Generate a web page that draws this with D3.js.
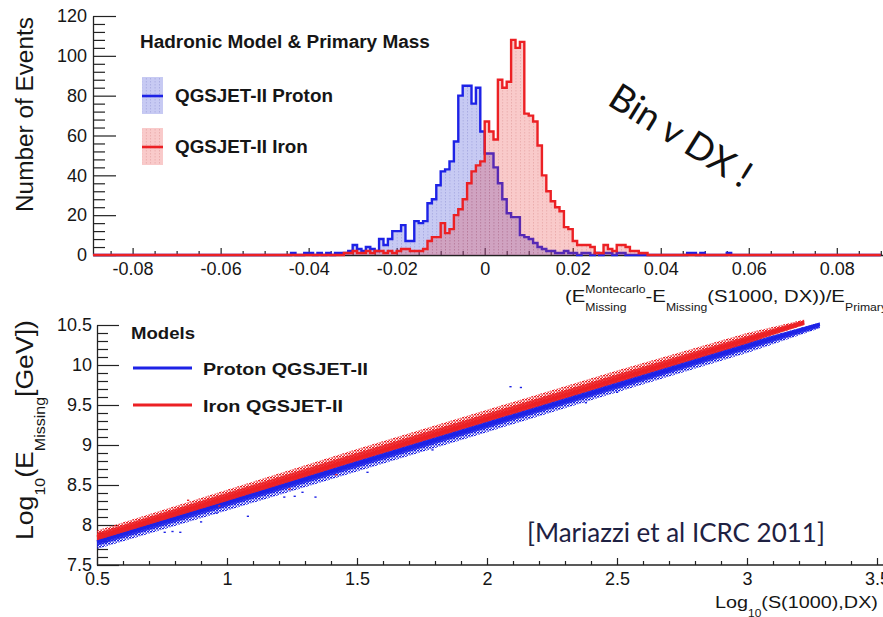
<!DOCTYPE html>
<html>
<head>
<meta charset="utf-8">
<script src="https://cdn.jsdelivr.net/npm/d3@7"></script>
<style>
  html, body { margin: 0; padding: 0; background: #fff; }
  svg { display: block; font-family: "Liberation Sans", Arial, Helvetica, sans-serif; }
</style>
</head>
<body>
<svg id="chart"></svg>
<script>
const width = 883
const height = 617

// ---- missing-energy residual histograms, 0.001 wide bins ----
const binWidth = 0.001
const protonFirstBin = -45
const protonCounts = [
  0, 1, 0, 0, 1, 1, 0, 1, 0, 1, 0, 1, 1,
  1, 2, 5, 3, 2, 4, 3, 2, 8, 5, 8, 12, 12, 15, 7, 7, 17, 16, 17, 26,
  28, 35, 42, 43, 47, 57, 80, 85, 85, 76, 84, 62,
  51, 51, 44, 36, 28, 21, 19, 19, 10, 9, 8, 6, 4, 3, 2, 2, 1, 1, 2, 1,
  1, 0, 1, 1, 0, 1, 0, 1, 1, 0, 1, 1,
  0, 0, 0, 0, 0, 0, 0, 0, 0, 0, 0, 0, 0, 0, 1, 1, 0, 1, 0, 0, 0, 0, 0, 1, 0
]
const ironFirstBin = -32
const ironCounts = [
  1, 1, 2, 1, 1, 2, 1, 2, 2, 1,
  2, 1, 2, 3, 3, 2, 2, 2, 3, 7,
  9, 9, 16, 11, 13, 20, 23, 28, 36, 42,
  45, 47, 67, 62, 58, 88, 84, 87, 108, 104,
  107, 71, 70, 67, 55, 40, 32, 27, 24, 22,
  14, 13, 7, 5, 5, 5, 4, 1, 1, 5,
  3, 2, 5, 5, 4, 2, 2, 1, 1
]
const histXTicks = [-0.08, -0.06, -0.04, -0.02, 0, 0.02, 0.04, 0.06, 0.08]
const histYTicks = [0, 20, 40, 60, 80, 100, 120]

// ---- log10(E_missing) against log10(S(1000),DX) ----
const protonLineX = [0.5, 3.28]
const protonLineY = [7.79, 10.51]
const ironLineX = [0.5, 3.22]
const ironLineY = [7.85, 10.53]
// dense cloud: solid core and sparser halo around each fit
const protonBandX = [0.5, 1.0, 1.5, 2.0, 2.5, 3.0, 3.28]
const protonCoreLo = [7.74, 8.23, 8.72, 9.21, 9.70, 10.19, 10.47]
const protonCoreHi = [7.83, 8.32, 8.81, 9.30, 9.79, 10.28, 10.53]
const protonHaloLo = [7.70, 8.18, 8.67, 9.16, 9.66, 10.15, 10.46]
const ironBandX = [0.5, 1.0, 1.5, 2.0, 2.5, 3.0, 3.22]
const ironCoreLo = [7.81, 8.30, 8.80, 9.29, 9.78, 10.27, 10.50]
const ironCoreHi = [7.90, 8.40, 8.90, 9.39, 9.88, 10.36, 10.56]
const ironHaloHi = [7.93, 8.44, 8.95, 9.44, 9.93, 10.40, 10.57]
const protonStrayX = [0.76, 0.79, 0.82, 0.90, 0.96, 1.08, 1.22, 1.26, 1.29, 1.34, 1.54, 1.79, 2.09, 2.13, 2.38, 2.50]
const protonStrayY = [7.91, 7.92, 7.91, 8.04, 8.15, 8.11, 8.35, 8.36, 8.41, 8.35, 8.66, 8.94, 9.73, 9.72, 9.53, 9.66]
const ironStrayX = [0.85, 0.92, 0.97, 1.24, 1.42]
const ironStrayY = [8.31, 8.27, 8.24, 8.45, 8.63]
const scatterXTicks = [0.5, 1, 1.5, 2, 2.5, 3, 3.5]
const scatterYTicks = [7.5, 8, 8.5, 9, 9.5, 10, 10.5]

const blue = "#1d22e6"
const red = "#ec2024"
const ink = "#161616"

const svg = d3.select("#chart")
              .attr("width", width)
              .attr("height", height)

svg.append("rect").attr("width", width).attr("height", height).attr("fill", "#fff")

const defs = svg.append("defs")

// rich text: plain runs, subscripts, superscripts and stacked sup/sub pairs
function richText(parent, parts, fs, weight)
{
  const g = parent.append("g").attr("fill", ink).attr("font-weight", weight || "normal")
  let x = 0
  parts.forEach(p => {
    if (p.t) {
      const t = g.append("text").attr("x", x).attr("font-size", fs).text(p.t)
      x += t.node().getComputedTextLength()
    } else {
      let w = 0
      if (p.sup) {
        const t = g.append("text").attr("x", x).attr("y", -0.52 * fs).attr("font-size", fs * 0.6).text(p.sup)
        w = Math.max(w, t.node().getComputedTextLength())
      }
      if (p.sub) {
        const t = g.append("text").attr("x", x).attr("y", 0.5 * fs).attr("font-size", fs * 0.6).text(p.sub)
        w = Math.max(w, t.node().getComputedTextLength())
      }
      x += w
    }
  })
  return { g: g, width: x }
}

function fitText(parent, parts, fs, target, transform, weight)
{
  const r = richText(parent, parts, fs, weight)
  r.g.attr("transform", transform + " scale(" + (target / r.width) + ",1)")
  return r.g
}

function styleAxis(sel, fs)
{
  sel.attr("font-family", null).attr("font-size", fs)
  sel.select(".domain").attr("stroke", "#222").attr("stroke-width", 1.3)
  sel.selectAll(".tick line").attr("stroke", "#222").attr("stroke-width", 1.2)
  sel.selectAll(".tick text").attr("fill", ink)
}

// ================= top panel: histograms =================
const xH = d3.scaleLinear().domain([-0.089, 0.0905]).range([93, 883])
const yH = d3.scaleLinear().domain([0, 120]).range([255, 16])

function addFillPattern(id, color, lineColor)
{
  const step = xH(binWidth) - xH(0)
  const p = defs.append("pattern")
                .attr("id", id)
                .attr("patternUnits", "userSpaceOnUse")
                .attr("x", xH(0)).attr("y", 0)
                .attr("width", step).attr("height", 3)
  p.append("rect").attr("width", step).attr("height", 3).attr("fill", color)
  p.append("rect").attr("x", 0).attr("y", 0).attr("width", 0.8).attr("height", 1.5).attr("fill", lineColor)
}
addFillPattern("protonFill", "rgba(70,80,215,0.30)", "rgba(60,60,160,0.25)")
addFillPattern("ironFill", "rgba(232,60,60,0.27)", "rgba(170,40,40,0.22)")

// y axis
const gyH = svg.append("g").attr("transform", "translate(93,0)")
gyH.call(d3.axisLeft(yH).tickValues(histYTicks).tickSizeInner(-23).tickSizeOuter(0).tickPadding(6).tickFormat(d => String(d)))
styleAxis(gyH, 18)
const gyHm = svg.append("g").attr("transform", "translate(93,0)")
gyHm.call(d3.axisLeft(yH).tickValues(d3.range(0, 121, 4).filter(v => v % 20 !== 0)).tickSize(-12).tickFormat(() => ""))
styleAxis(gyHm, 18)
gyHm.select(".domain").remove()

// x axis
const gxH = svg.append("g").attr("transform", "translate(0,255)")
gxH.call(d3.axisBottom(xH).tickValues(histXTicks).tickSizeInner(-7).tickSizeOuter(0).tickPadding(7).tickFormat(d => String(d)))
styleAxis(gxH, 18)
const gxHm = svg.append("g").attr("transform", "translate(0,255)")
gxHm.call(d3.axisBottom(xH).tickValues(d3.range(-85, 91, 5).filter(k => k % 20 !== 0).map(k => k / 1000)).tickSize(-4).tickFormat(() => ""))
styleAxis(gxHm, 18)
gxHm.select(".domain").remove()

function histPoints(first, counts)
{
  const pts = []
  for (let k = -89; k <= 90; k++) {
    const i = k - first
    pts.push([k * binWidth, (i >= 0 && i < counts.length) ? counts[i] : 0])
  }
  return pts
}

const histArea = d3.area().curve(d3.curveStepAfter)
                   .x(d => xH(d[0])).y0(yH(0)).y1(d => yH(d[1]))
const histLine = d3.line().curve(d3.curveStepAfter)
                   .x(d => xH(d[0])).y(d => yH(d[1]))

const protonHist = histPoints(protonFirstBin, protonCounts)
const ironHist = histPoints(ironFirstBin, ironCounts)

svg.append("path").attr("d", histArea(protonHist)).attr("fill", "url(#protonFill)")
svg.append("path").attr("d", histLine(protonHist)).attr("fill", "none")
   .attr("stroke", blue).attr("stroke-width", 2.4)
svg.append("path").attr("d", histArea(ironHist)).attr("fill", "url(#ironFill)")
svg.append("path").attr("d", histLine(ironHist)).attr("fill", "none")
   .attr("stroke", red).attr("stroke-width", 2.4)

// axis titles
fitText(svg, [{ t: "Number of Events" }], 24, 195, "translate(33,212) rotate(-90)")
fitText(svg, [{ t: "(E" }, { sup: "Montecarlo", sub: "Missing" }, { t: "-E" }, { sub: "Missing" },
              { t: "(S1000, DX))/E" }, { sub: "Primary" }], 17, 322, "translate(565,302)")

// legend
fitText(svg, [{ t: "Hadronic Model & Primary Mass" }], 18, 290, "translate(140,48)", "bold")
const histLegend = [
  { label: "QGSJET-II Proton", fill: "url(#protonFill)", color: blue, y: 77, w: 158 },
  { label: "QGSJET-II Iron", fill: "url(#ironFill)", color: red, y: 128, w: 133 }
]
histLegend.forEach(d => {
  svg.append("rect").attr("x", 142).attr("y", d.y).attr("width", 21).attr("height", 37).attr("fill", d.fill)
  svg.append("line").attr("x1", 142).attr("x2", 163).attr("y1", d.y + 19).attr("y2", d.y + 19)
     .attr("stroke", d.color).attr("stroke-width", 2.6)
  fitText(svg, [{ t: d.label }], 18, d.w, "translate(175," + (d.y + 25) + ")", "bold")
})

// hand-written remark
const remark = svg.append("text")
                  .attr("font-family", "Lato, 'Open Sans', sans-serif")
                  .attr("font-size", 36)
                  .attr("fill", "#111")
                  .text("Bin v DX !")
remark.attr("font-size", 36 * 160 / remark.node().getComputedTextLength())
      .attr("transform", "translate(606,104) rotate(32)")

// ================= bottom panel: energy vs S(1000) =================
const xS = d3.scaleLinear().domain([0.5, 3.5]).range([97, 877])
const yS = d3.scaleLinear().domain([7.5, 10.5]).range([565, 325])

const gyS = svg.append("g").attr("transform", "translate(97,0)")
gyS.call(d3.axisLeft(yS).tickValues(scatterYTicks).tickSizeInner(-22).tickSizeOuter(0).tickPadding(5).tickFormat(d => String(d)))
styleAxis(gyS, 18)
const gySm = svg.append("g").attr("transform", "translate(97,0)")
gySm.call(d3.axisLeft(yS).tickValues(d3.range(75, 106).filter(k => k % 5 !== 0).map(k => k / 10)).tickSize(-11).tickFormat(() => ""))
styleAxis(gySm, 18)
gySm.select(".domain").remove()

const gxS = svg.append("g").attr("transform", "translate(0,565)")
gxS.call(d3.axisBottom(xS).tickValues(scatterXTicks).tickSizeInner(-7).tickSizeOuter(0).tickPadding(7).tickFormat(d => String(d)))
styleAxis(gxS, 18)
gxS.select(".domain").attr("d", "M97,0H883")
const gxSm = svg.append("g").attr("transform", "translate(0,565)")
gxSm.call(d3.axisBottom(xS).tickValues(d3.range(5, 36).filter(k => k % 5 !== 0).map(k => k / 10)).tickSize(-4).tickFormat(() => ""))
styleAxis(gxSm, 18)
gxSm.select(".domain").remove()

// speckle fill for the ragged edge of the point clouds
function addSpeckle(id, color)
{
  const p = defs.append("pattern").attr("id", id).attr("patternUnits", "userSpaceOnUse")
                .attr("width", 3).attr("height", 3)
  p.append("rect").attr("x", 0).attr("y", 0).attr("width", 2).attr("height", 1.4).attr("fill", color)
  p.append("rect").attr("x", 1.5).attr("y", 1.5).attr("width", 1.5).attr("height", 1.4).attr("fill", color)
}
addSpeckle("protonSpeckle", blue)
addSpeckle("ironSpeckle", red)

const band = d3.area().x(d => xS(d[0])).y0(d => yS(d[1])).y1(d => yS(d[2]))
const fitLine = d3.line().x(d => xS(d[0])).y(d => yS(d[1]))

// proton cloud and fit
svg.append("path").attr("d", band(d3.zip(protonBandX, protonHaloLo, protonCoreHi))).attr("fill", "url(#protonSpeckle)")
svg.append("path").attr("d", band(d3.zip(protonBandX, protonCoreLo, protonCoreHi))).attr("fill", blue).attr("fill-opacity", 0.85)
svg.append("g").selectAll("rect")
   .data(d3.zip(protonStrayX, protonStrayY))
   .join("rect")
   .attr("x", d => xS(d[0]) - 1).attr("y", d => yS(d[1]) - 0.6)
   .attr("width", 2.2).attr("height", 1.4).attr("fill", blue)
svg.append("path").attr("d", fitLine(d3.zip(protonLineX, protonLineY)))
   .attr("stroke", blue).attr("stroke-width", 3.2).attr("fill", "none")

// iron cloud and fit
svg.append("path").attr("d", band(d3.zip(ironBandX, ironCoreLo, ironHaloHi))).attr("fill", "url(#ironSpeckle)")
svg.append("path").attr("d", band(d3.zip(ironBandX, ironCoreLo, ironCoreHi))).attr("fill", red).attr("fill-opacity", 0.88)
svg.append("g").selectAll("rect")
   .data(d3.zip(ironStrayX, ironStrayY))
   .join("rect")
   .attr("x", d => xS(d[0]) - 1).attr("y", d => yS(d[1]) - 0.6)
   .attr("width", 2.2).attr("height", 1.4).attr("fill", red)
svg.append("path").attr("d", fitLine(d3.zip(ironLineX, ironLineY)))
   .attr("stroke", red).attr("stroke-width", 3.2).attr("fill", "none")

// axis titles
fitText(svg, [{ t: "Log" }, { sub: "10" }, { t: "(E" }, { sub: "Missing" }, { t: "[GeV])" }], 24, 220,
        "translate(33,540) rotate(-90)")
fitText(svg, [{ t: "Log" }, { sub: "10" }, { t: "(S(1000),DX)" }], 17, 163, "translate(715,608)")

// legend
fitText(svg, [{ t: "Models" }], 17, 64, "translate(131,339)", "bold")
const modelLegend = [
  { label: "Proton  QGSJET-II", color: blue, y: 368, w: 165 },
  { label: "Iron  QGSJET-II", color: red, y: 405, w: 140 }
]
modelLegend.forEach(d => {
  svg.append("line").attr("x1", 133).attr("x2", 192).attr("y1", d.y).attr("y2", d.y)
     .attr("stroke", d.color).attr("stroke-width", 3)
  fitText(svg, [{ t: d.label }], 17, d.w, "translate(203," + (d.y + 7) + ")", "bold")
})

// reference note
const cite = svg.append("text")
                .attr("font-family", "Lato, 'Open Sans', sans-serif")
                .attr("font-size", 26)
                .attr("fill", "#1e2142")
                .text("[Mariazzi et al ICRC 2011]")
cite.attr("font-size", 26 * 298 / cite.node().getComputedTextLength())
    .attr("x", 527).attr("y", 542)
</script>
</body>
</html>
